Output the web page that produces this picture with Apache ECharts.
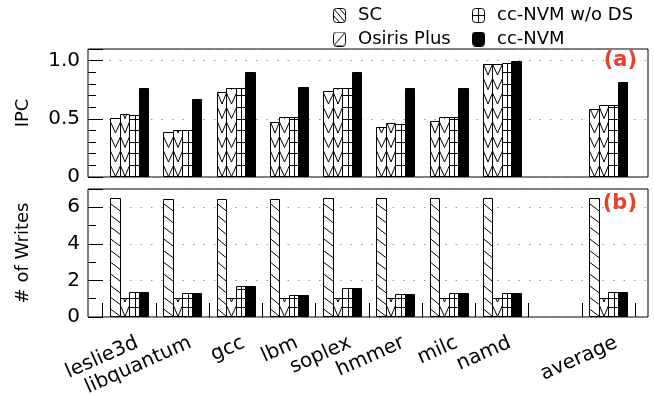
<!DOCTYPE html>
<html><head><meta charset="utf-8">
<script src="https://cdn.jsdelivr.net/npm/echarts@6/dist/echarts.min.js"></script>
<style>html,body{margin:0;padding:0;background:#fff}#c{width:654px;height:396px}</style>
</head><body><div id="c"></div>
<script>
// ---------- data ----------
const categories = ['leslie3d','libquantum','gcc','lbm','soplex','hmmer','milc','namd','','average'];
const benchmarks = ['leslie3d','libquantum','gcc','lbm','soplex','hmmer','milc','namd','average'];
const seriesNames = ['SC','Osiris Plus','cc-NVM w/o DS','cc-NVM'];
// (a) IPC
const ipcSC     = [0.503,0.383,0.733,0.470,0.738,0.427,0.478,0.968,0.588];
const ipcOsiris = [0.538,0.408,0.767,0.519,0.764,0.461,0.516,0.974,0.617];
const ipcNoDS   = [0.532,0.402,0.762,0.519,0.762,0.458,0.516,0.977,0.617];
const ipcCcNVM  = [0.767,0.667,0.900,0.772,0.900,0.767,0.761,0.997,0.818];
// (b) # of writes
const wrSC      = [6.50,6.47,6.47,6.47,6.50,6.50,6.50,6.50,6.50];
const wrOsiris  = [1.02,1.02,1.02,1.02,1.02,1.02,1.02,1.02,1.02];
const wrNoDS    = [1.35,1.31,1.68,1.22,1.59,1.26,1.33,1.30,1.38];
const wrCcNVM   = [1.35,1.31,1.70,1.22,1.59,1.26,1.33,1.30,1.38];
// axis ticks
const ipcTickValues = [0, 0.5, 1.0];
const ipcTickLabels = ['0', '0.5', '1.0'];
const wrTickValues = [0, 2, 4, 6];
const wrTickLabels = ['0', '2', '4', '6'];

// ---------- style ----------
const FONT = 'DejaVu Sans';
const BAR_FRAC = 9.5 / 53.25;
const LABEL_ROT = 24 * Math.PI / 180, LABEL_DX = 8, LABEL_DY = 25;

function toData(vals) { return vals.map((v, i) => [categories.indexOf(benchmarks[i]), v]); }

function makeRender(idx, kind, P, h) {
  return function (params, api) {
    const ci = api.value(0), v = api.value(1);
    const b = api.coord([ci, 0]), t = api.coord([ci, v]);
    const band = api.size([1, 0])[0];
    const bw = band * BAR_FRAC;
    const left = b[0] - 2 * bw + idx * bw;
    const x0 = Math.round(left) + 0.5, x1 = Math.round(left + bw) + 0.5;
    const y0 = Math.round(t[1]) + 0.5, y1 = Math.round(b[1]) - 0.5;
    const w = x1 - x0;
    const children = [{
      type: 'rect', shape: { x: x0, y: y0, width: w, height: y1 - y0 },
      style: { fill: kind === 'solid' ? '#000' : '#fff', stroke: '#000', lineWidth: 1 }
    }];
    const L = (ax, ay, bx, by) => children.push({ type: 'line', shape: { x1: ax, y1: ay, x2: bx, y2: by }, style: { stroke: '#000', lineWidth: 1 } });
    if (kind === 'back') {
      const s = h / w;
      for (let k = -1; k < 80; k++) {
        const yl = y1 - k * P - h;
        if (yl + h < y0) break;
        let ax = x0, ay = yl, bx = x1, by = yl + h;
        if (ay < y0) { ax = x0 + (y0 - yl) / s; ay = y0; }
        if (by > y1) { bx = x0 + (y1 - yl) / s; by = y1; }
        if (bx > ax) L(ax, ay, bx, by);
      }
    } else if (kind === 'chev') {
      const half = w / 2, xm = x0 + half;
      for (let k = 0; k < 80; k++) {
        const yv = y1 - k * P;
        if (yv <= y0) break;
        let f = 1;
        if (yv - h < y0) f = (yv - y0) / h;
        L(xm - half * f, yv - h * f, xm, yv);
        L(xm, yv, xm + half * f, yv - h * f);
      }
    } else if (kind === 'grid') {
      const xm = Math.round(x0 + w / 2) + 0.5;
      L(xm, y0, xm, y1);
      for (let k = 1; k < 80; k++) {
        const yy = Math.round(y1 - k * P) + 0.5;
        if (yy <= y0 + 1) break;
        L(x0, yy, x1, yy);
      }
    }
    return { type: 'group', children };
  };
}

function labelRender(params, api) {
  const ci = api.value(0);
  const p = api.coord([ci, 0]);
  return { type: 'text', x: p[0] + LABEL_DX, y: p[1] + LABEL_DY, rotation: LABEL_ROT,
    style: { text: categories[ci], align: 'right', verticalAlign: 'middle', fontFamily: FONT, fontSize: 20, fill: '#000' } };
}

function iconURL(kind) {
  const c = document.createElement('canvas'); c.width = 13; c.height = 15;
  const g = c.getContext('2d');
  const r = 3;
  const rr = () => { g.beginPath(); g.moveTo(0.5 + r, 0.5); g.arcTo(12.5, 0.5, 12.5, 14.5, r); g.arcTo(12.5, 14.5, 0.5, 14.5, r); g.arcTo(0.5, 14.5, 0.5, 0.5, r); g.arcTo(0.5, 0.5, 12.5, 0.5, r); g.closePath(); };
  rr(); g.fillStyle = kind === 'solid' ? '#000' : '#fff'; g.fill();
  g.save(); rr(); g.clip();
  g.strokeStyle = '#000'; g.lineWidth = 1; g.beginPath();
  if (kind === 'back') { g.moveTo(0, 0); g.lineTo(13, 15); g.moveTo(0, 7); g.lineTo(7, 15); g.moveTo(6, 0); g.lineTo(13, 8); }
  if (kind === 'fwd') { g.moveTo(0, 15); g.lineTo(13, 0); }
  if (kind === 'grid') { g.moveTo(6.5, 0); g.lineTo(6.5, 15); g.moveTo(0, 7.5); g.lineTo(13, 7.5); }
  g.stroke(); g.restore();
  g.strokeStyle = '#000'; g.lineWidth = 1; rr(); g.stroke();
  return 'image://' + c.toDataURL();
}

const panelA = { frameGrid: 0, dataGrid: 1, top: 49, max: 1.1, majorInt: 0.5, minorInt: 0.1, tv: ipcTickValues, tl: ipcTickLabels, name: 'IPC',
  vals: [ipcSC, ipcOsiris, ipcNoDS, ipcCcNVM], kinds: ['chev', 'chev', 'grid', 'solid'], P: [14.5, 14.5, 11.6, 0], H: [11, 11, 0, 0] };
const panelB = { frameGrid: 2, dataGrid: 3, top: 189, max: 7, majorInt: 2, minorInt: 1, tv: wrTickValues, tl: wrTickLabels, name: '# of Writes',
  vals: [wrSC, wrOsiris, wrNoDS, wrCcNVM], kinds: ['back', 'chev', 'grid', 'solid'], P: [11.7, 14.5, 9.3, 0], H: [7.5, 11, 0, 0] };

const FRAME_LEFT = 88, FRAME_W = 560, DATA_LEFT = 102.5, DATA_W = 532.5, PANEL_H = 128;
const grid = [], xAxis = [], yAxis = [], series = [];
[panelA, panelB].forEach((p, pi) => {
  grid.push({ left: FRAME_LEFT, top: p.top, width: FRAME_W, height: PANEL_H, show: true, borderColor: '#000', borderWidth: 1, backgroundColor: 'transparent' });
  grid.push({ left: DATA_LEFT, top: p.top, width: DATA_W, height: PANEL_H, show: false });
  xAxis.push({ type: 'value', gridIndex: p.frameGrid, show: false, min: 0, max: 1 });
  xAxis.push({ type: 'category', gridIndex: p.dataGrid, data: categories, boundaryGap: true,
    axisLine: { show: false },
    axisTick: { show: pi === 1, inside: true, length: 14, interval: 0, lineStyle: { color: '#000', width: 1 } },
    axisLabel: { show: false } });
  const fmt = v => { const i = p.tv.findIndex(t => Math.abs(t - v) < 1e-9); return i >= 0 ? p.tl[i] : ''; };
  yAxis.push({ type: 'value', gridIndex: p.frameGrid, position: 'left', min: 0, max: p.max, interval: p.majorInt,
    name: p.name, nameLocation: 'middle', nameGap: 56, nameTextStyle: { fontFamily: FONT, fontSize: 18, color: '#000' },
    axisLine: { show: false },
    axisTick: { show: true, inside: true, length: 15, lineStyle: { color: '#000', width: 1 } },
    axisLabel: { formatter: fmt, margin: 8, fontFamily: FONT, fontSize: 20, color: '#000' },
    splitLine: { show: true, lineStyle: { color: '#9a9a9a', width: 1, type: [1.5, 9] } } });
  yAxis.push({ type: 'value', gridIndex: p.frameGrid, position: 'left', min: 0, max: p.max, interval: p.minorInt,
    axisLine: { show: false }, axisLabel: { show: false }, splitLine: { show: false },
    axisTick: { show: true, inside: true, length: 8, lineStyle: { color: '#000', width: 1 } } });
  const yData = yAxis.length;
  yAxis.push({ type: 'value', gridIndex: p.dataGrid, show: false, min: 0, max: p.max });
  p.vals.forEach((vals, si) => {
    series.push({ type: 'custom', name: seriesNames[si], xAxisIndex: p.dataGrid, yAxisIndex: yData,
      renderItem: makeRender(si, p.kinds[si], p.P[si], p.H[si]), encode: { x: 0, y: 1 },
      data: toData(vals), silent: true, animation: false });
  });
  if (pi === 1) {
    series.push({ type: 'custom', name: 'xlabels', xAxisIndex: p.dataGrid, yAxisIndex: yData, clip: false,
      renderItem: labelRender, encode: { x: 0, y: 1 }, silent: true, animation: false,
      data: benchmarks.map(n => [categories.indexOf(n), 0]) });
  }
});

const icons = [iconURL('back'), iconURL('fwd'), iconURL('grid'), iconURL('solid')];
const legendCommon = { orient: 'vertical', top: 6.5, itemWidth: 13, itemHeight: 15, itemGap: 5.5, padding: 0,
  selectedMode: false, textStyle: { fontFamily: FONT, fontSize: 18, color: '#000', padding: [0, 0, 0, 7] } };

const option = {
  animation: false,
  backgroundColor: '#fff',
  title: [
    { text: '(a)', right: 17, top: 50, padding: 0, textStyle: { fontFamily: FONT, fontWeight: 'bold', fontSize: 21, color: '#e8412c' } },
    { text: '(b)', right: 17, top: 193, padding: 0, textStyle: { fontFamily: FONT, fontWeight: 'bold', fontSize: 21, color: '#e8412c' } }
  ],
  legend: [
    Object.assign({}, legendCommon, { left: 333, data: [{ name: seriesNames[0], icon: icons[0] }, { name: seriesNames[1], icon: icons[1] }] }),
    Object.assign({}, legendCommon, { left: 472, data: [{ name: seriesNames[2], icon: icons[2] }, { name: seriesNames[3], icon: icons[3] }] })
  ],
  grid, xAxis, yAxis, series
};
const chart = echarts.init(document.getElementById('c'), null, { renderer: 'canvas' });
chart.setOption(option);
</script></body></html>
